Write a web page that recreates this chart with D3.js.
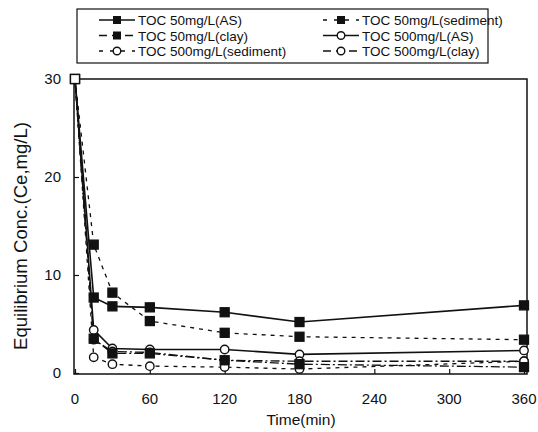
<!doctype html>
<html lang="en">
<head>
    <title>Equilibrium Conc.</title>
    <script src="https://d3js.org/d3.v7.min.js"></script>
    <style>
        body { margin: 0; background: #fff; }
        text { font-family: "Liberation Sans", Arial, sans-serif; fill: #111; }
    </style>
</head>
<body>
<script>
    // time (min) and concentrations
    var times = [0, 15, 30, 60, 120, 180, 360];
    var as50 = [30, 7.7, 6.8, 6.7, 6.2, 5.2, 6.9];
    var sed50 = [30, 13.1, 8.2, 5.3, 4.1, 3.7, 3.4];
    var clay50 = [30, 3.5, 2.0, 2.0, 1.3, 0.9, 0.6];
    var as500 = [30, 4.4, 2.5, 2.4, 2.4, 1.9, 2.3];
    var sed500 = [30, 1.6, 0.9, 0.7, 0.6, 0.4, 1.2];
    var clay500 = [30, 3.4, 2.2, 2.1, 1.3, 1.2, 1.2];
    var xTicks = [0, 60, 120, 180, 240, 300, 360];
    var yTicks = [0, 10, 20, 30];

    var series = [
        { name: "TOC 50mg/L(AS)", values: as50, dash: null, marker: "square" },
        { name: "TOC 50mg/L(sediment)", values: sed50, dash: "4,5", marker: "square" },
        { name: "TOC 50mg/L(clay)", values: clay50, dash: "9,3,2,3", marker: "square" },
        { name: "TOC 500mg/L(AS)", values: as500, dash: null, marker: "circle" },
        { name: "TOC 500mg/L(sediment)", values: sed500, dash: "4,5", marker: "circle" },
        { name: "TOC 500mg/L(clay)", values: clay500, dash: "9,3,2,3", marker: "circle" }
    ];

    var width = 538, height = 432;
    var svg = d3.select("body").append("svg")
        .attr("width", width)
        .attr("height", height);

    var x = d3.scaleLinear().domain([0, 360]).range([75, 524]);
    var y = d3.scaleLinear().domain([0, 30]).range([373, 79]);

    // frame
    svg.append("rect")
        .attr("x", 74).attr("y", 79)
        .attr("width", 527 - 74).attr("height", 374 - 79)
        .attr("fill", "none").attr("stroke", "#111").attr("stroke-width", 1.5);

    // axes (ticks pointing inward)
    var xAxis = d3.axisTop(x).tickValues(xTicks).tickSize(5).tickFormat("");
    svg.append("g").attr("transform", "translate(0,374)").call(xAxis)
        .call(g => g.select(".domain").remove());
    svg.selectAll(".xlab").data(xTicks).enter().append("text")
        .attr("x", d => x(d)).attr("y", 404)
        .attr("text-anchor", "middle").attr("font-size", 15)
        .text(d => d);

    var yAxis = d3.axisRight(y).tickValues(yTicks).tickSize(5).tickFormat("");
    svg.append("g").attr("transform", "translate(74,0)").call(yAxis)
        .call(g => g.select(".domain").remove());
    svg.selectAll(".ylab").data(yTicks).enter().append("text")
        .attr("x", 61).attr("y", d => y(d) + 5)
        .attr("text-anchor", "end").attr("font-size", 15)
        .text(d => d);

    svg.selectAll(".tick line").attr("stroke", "#111").attr("stroke-width", 1.2);

    svg.append("text")
        .attr("x", 301).attr("y", 425)
        .attr("text-anchor", "middle").attr("font-size", 15.5)
        .text("Time(min)");
    svg.append("text")
        .attr("transform", "translate(27,236) rotate(-90)")
        .attr("text-anchor", "middle").attr("font-size", 17.5)
        .attr("textLength", 228).attr("lengthAdjust", "spacingAndGlyphs")
        .text("Equilibrium Conc.(Ce,mg/L)");

    var line = d3.line()
        .x((d, i) => x(times[i]))
        .y(d => y(d));

    function drawMarker(g, type, cx, cy, open) {
        if (type == "square") {
            g.append("rect")
                .attr("x", cx - 4.5).attr("y", cy - 4.5)
                .attr("width", 9).attr("height", 9)
                .attr("fill", open ? "#fff" : "#111")
                .attr("stroke", "#111").attr("stroke-width", 1.3);
        } else {
            g.append("circle")
                .attr("cx", cx).attr("cy", cy).attr("r", 4.2)
                .attr("fill", "#fff")
                .attr("stroke", "#111").attr("stroke-width", 1.4);
        }
    }

    series.forEach(function (s) {
        svg.append("path")
            .datum(s.values)
            .attr("d", line)
            .attr("fill", "none")
            .attr("stroke", "#111")
            .attr("stroke-width", s.dash ? 1.3 : 1.6)
            .attr("stroke-dasharray", s.dash);
    });

    // circles first, squares on top
    var order = series.filter(s => s.marker == "circle").concat(series.filter(s => s.marker == "square"));
    order.forEach(function (s) {
        var g = svg.append("g");
        s.values.forEach(function (v, i) {
            drawMarker(g, s.marker, x(times[i]), y(v), i == 0);
        });
    });

    // legend
    var lg = svg.append("g");
    lg.append("rect")
        .attr("x", 77).attr("y", 9)
        .attr("width", 488 - 77).attr("height", 63 - 9)
        .attr("fill", "#fff").attr("stroke", "#111").attr("stroke-width", 1.2);

    series.forEach(function (s, j) {
        var col = j % 2, row = Math.floor(j / 2);
        var lx = col == 0 ? 99 : 323;
        var ly = 20 + row * 15.5;
        var item = lg.append("g");
        item.append("line")
            .attr("x1", lx).attr("x2", lx + 36)
            .attr("y1", ly).attr("y2", ly)
            .attr("stroke", "#111").attr("stroke-width", 1.4)
            .attr("stroke-dasharray", s.dash ? (s.dash == "4,5" ? "4,7" : "8,5") : null);
        var mx = lx + 18;
        if (s.marker == "square") {
            item.append("rect")
                .attr("x", mx - 4).attr("y", ly - 4).attr("width", 8).attr("height", 8)
                .attr("fill", "#111");
        } else {
            item.append("circle")
                .attr("cx", mx).attr("cy", ly).attr("r", 3.8)
                .attr("fill", "#fff").attr("stroke", "#111").attr("stroke-width", 1.4);
        }
        item.append("text")
            .attr("x", lx + 39).attr("y", ly + 5)
            .attr("font-size", 13.5)
            .text(s.name);
    });
</script>
</body>
</html>
